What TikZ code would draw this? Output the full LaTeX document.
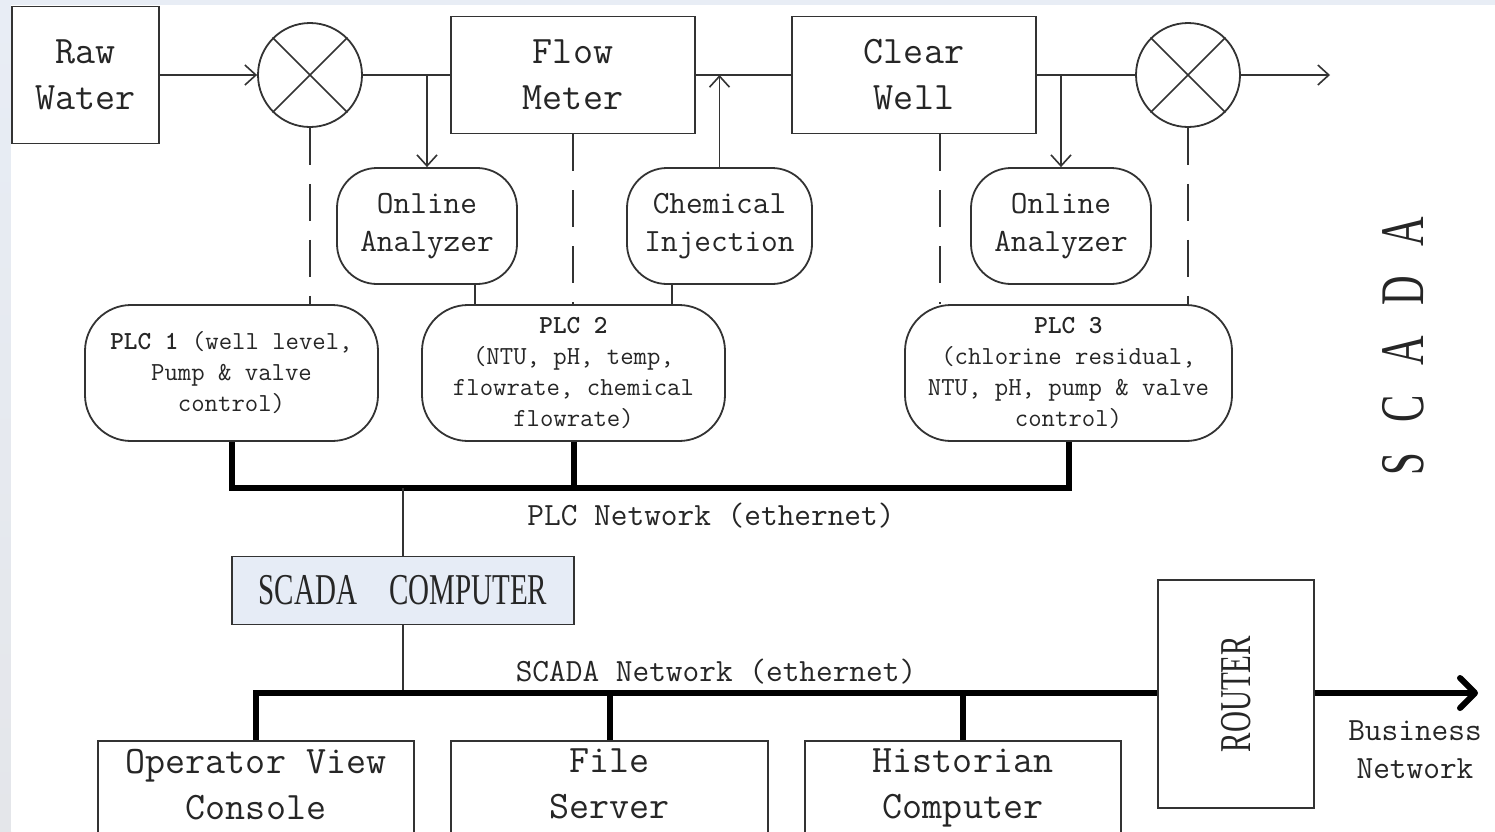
\documentclass[tikz,border=0pt]{standalone}
\usepackage{fontspec}
\usepackage{graphicx}
\newfontfamily\tserif{Liberation Serif}[FakeStretch=0.66]
\usetikzlibrary{arrows.meta,calc}

\definecolor{edge}{HTML}{333333}
\definecolor{ink}{HTML}{262626}
\definecolor{frame}{HTML}{E8EDF5}
\definecolor{framelow}{HTML}{E4E6EA}
\definecolor{pcfill}{HTML}{E6ECF6}

\newcommand\fsz[2]{\fontsize{#1}{#2}\selectfont}

\begin{document}
\begin{tikzpicture}[x=1pt,y=-1pt,
  box/.style={draw=edge,line width=1.8pt,rectangle,inner sep=0pt,align=center,
    text=ink,font=\ttfamily\fsz{38.9}{46}},
  rbox/.style={box,rounded corners=40pt,font=\ttfamily\fsz{32.4}{38}},
  plcbox/.style={box,rounded corners=46pt,font=\ttfamily\fsz{26}{31}},
  station/.style={box,minimum height=96pt,anchor=north,text depth=10pt},
  valve/.style={circle,draw=edge,line width=1.8pt,minimum size=104pt,inner sep=0pt},
  wire/.style={draw=edge,line width=1.6pt},
  flow/.style={wire,-{Straight Barb[length=11pt,width=20pt]}},
  ctrl/.style={draw=edge,line width=2pt,dash pattern=on 37pt off 19pt},
  bus/.style={draw=black,line width=6pt,line join=miter},
  lbl/.style={text=ink,font=\ttfamily\fsz{32.4}{38},align=center,inner sep=0pt},
]
\clip (0,0) rectangle (1495,831);
% page frame
\fill[frame] (0,0) rectangle (1495,831);
\shade[top color=frame,bottom color=framelow] (0,5) rectangle (11,831);
\fill[white] (11,5) rectangle (1495,831);

% process line
\node[box,minimum width=147pt,minimum height=137pt] (raw) at (85.5,75) {Raw\\Water};
\node[valve] (v1) at (310,75) {};
\node[box,minimum width=244pt,minimum height=117pt] (fm) at (573,75) {Flow\\Meter};
\node[box,minimum width=244pt,minimum height=117pt] (cw) at (914,75) {Clear\\Well};
\node[valve] (v2) at (1188,75) {};
\coordinate (out) at (1330,75);
\draw[wire] (v1.45) -- (v1.225) (v1.135) -- (v1.315);
\draw[wire] (v2.45) -- (v2.225) (v2.135) -- (v2.315);

% field devices
\node[rbox,minimum width=180pt,minimum height=116pt] (oa1) at (427,226) {Online\\Analyzer};
\node[rbox,minimum width=185pt,minimum height=116pt] (ci) at (719.5,226) {Chemical\\Injection};
\node[rbox,minimum width=180pt,minimum height=116pt] (oa2) at (1061,226) {Online\\Analyzer};

% controllers
\node[plcbox,minimum width=293pt,minimum height=136pt] (plc1) at (231.5,373)
  {{\bfseries PLC 1} (well level,\\Pump \& valve\\control)};
\node[plcbox,minimum width=303pt,minimum height=136pt] (plc2) at (573.5,373)
  {{\bfseries PLC 2}\\(NTU, pH, temp,\\flowrate, chemical\\flowrate)};
\node[plcbox,minimum width=327pt,minimum height=136pt] (plc3) at (1068.5,373)
  {{\bfseries PLC 3}\\(chlorine residual,\\NTU, pH, pump \& valve\\control)};

% flow connections
\draw[flow] (raw.east) -- (v1.west);
\draw[wire] (v1.east) -- (fm.west);
\draw[flow] (oa1.north |- v1.east) -- (oa1.north);
\draw[wire] (fm.east) -- (cw.west);
\draw[flow] (ci.north) -- (ci.north |- fm.east);
\draw[wire] (cw.east) -- (v2.west);
\draw[flow] (oa2.north |- cw.east) -- (oa2.north);
\draw[flow] (v2.east) -- (out);

% control signals
\draw[ctrl] (v1.south) -- (v1.south |- plc1.north);
\draw[ctrl] (fm.south) -- (fm.south |- plc2.north);
\draw[ctrl] ([xshift=26pt]cw.south) -- ([xshift=26pt]cw.south |- plc3.north);
\draw[ctrl] (v2.south) -- (v2.south |- plc3.north);
\draw[wire] ([xshift=48pt]oa1.south) -- ([xshift=48pt]oa1.south |- plc2.north);
\draw[wire] ([xshift=-47.5pt]ci.south) -- ([xshift=-47.5pt]ci.south |- plc2.north);

% PLC network
\coordinate (pbus) at (403,488);
\draw[bus] (plc1.south) -- (plc1.south |- pbus) -- (plc3.south |- pbus) -- (plc3.south);
\draw[bus] (plc2.south) -- (plc2.south |- pbus);
\node[lbl] (pnet) at (711,516) {PLC Network (ethernet)};

\node[box,fill=pcfill,minimum width=342pt,minimum height=68pt,font=\tserif\fsz{44}{46}]
  (sc) at (403,590.5) {{\spaceskip=32pt SCADA COMPUTER}};
\draw[wire] (pbus) -- (sc.north);

% SCADA network
\coordinate (sbus) at (403,693);
\draw[wire] (sc.south) -- (sbus);
\node[station,minimum width=316pt] (op) at (256,740) {Operator View\\Console};
\node[station,minimum width=317pt] (fs) at (609.5,740) {File\\Server};
\node[station,minimum width=316pt] (hc) at (963,740) {Historian\\Computer};
\node[box,minimum width=156pt,minimum height=228pt] (rt) at (1236,694)
  {\rotatebox{90}{\tserif\fsz{44}{46}ROUTER}};
\draw[bus] (op.north) -- (op.north |- sbus) -- (rt.west |- sbus);
\draw[bus] (fs.north) -- (fs.north |- sbus);
\draw[bus] (hc.north) -- (hc.north |- sbus);
\coordinate (biz) at (1478,693);
\draw[bus,-{Straight Barb[length=15pt,width=30pt,round]}] (rt.east |- sbus) -- (biz);
\node[lbl] (snet) at (716,672) {SCADA Network (ethernet)};
\node[lbl] (bnet) at (1415,750) {Business\\Network};

% system title
\node[text=ink,font=\tserif\fsz{62}{62},rotate=90,inner sep=0pt] (title) at (1403,346)
  {\spaceskip=30pt S C A D A};
\end{tikzpicture}
\end{document}
